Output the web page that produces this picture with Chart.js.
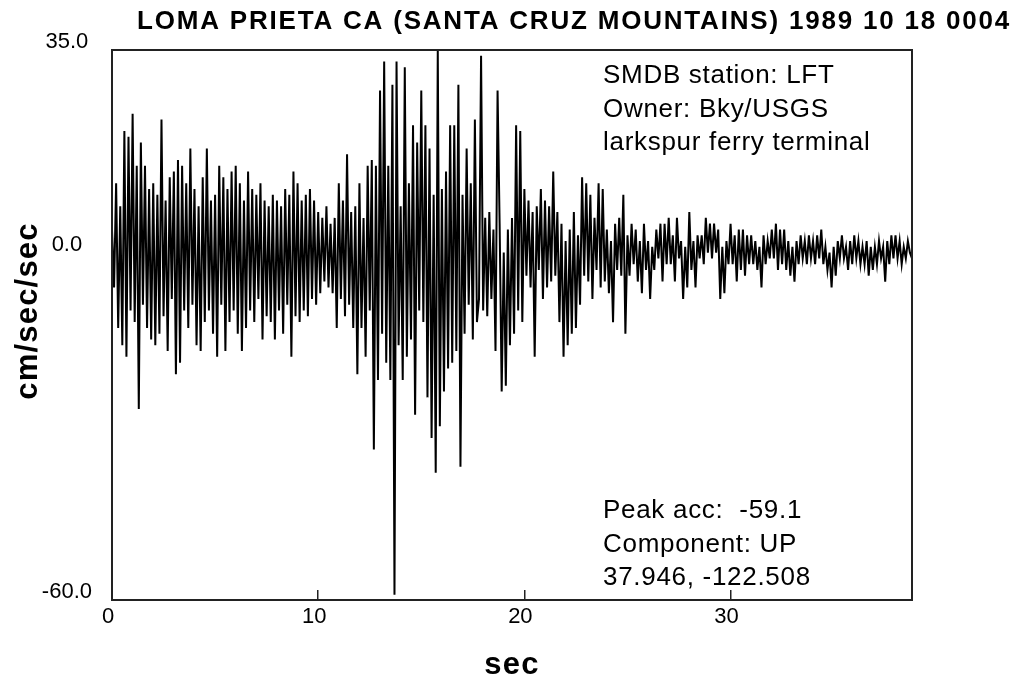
<!DOCTYPE html>
<html>
<head>
<meta charset="utf-8">
<title>LOMA PRIETA CA - LFT UP</title>
<script src="https://cdn.jsdelivr.net/npm/chart.js@4.4.1/dist/chart.umd.min.js"></script>
<style>
  html, body { margin: 0; padding: 0; background: #fff; }
  #wrap { width: 1020px; height: 683px; }
</style>
</head>
<body>
<div id="wrap"><canvas id="chart" width="1020" height="683"></canvas></div>
<script>
// sample spacing of the trace, seconds
const sampleStep = 0.1;
const xMax = 38.8;

// acceleration (cm/sec/sec), one row per second
const accel = [
  4, -6, 12, -13, 8, -16, 21, -18, 20, -10,        // 0 s
  24, -12, 15, -27, 19, -9, 15, -13, 11, -15,      // 1
  12, -16, 10, -14, 23, -11, 9, -17, 13, -8,       // 2
  14, -21, 16, -19, 15, -10, 12, -13, 18, -9,      // 3
  11, -16, 8, -17, 13, -12, 18, -10, 9, -14,       // 4
  10, -18, 15, -9, 13, -17, 11, -12, 14, -10,      // 5
  15, -14, 12, -17, 9, -13, 14, -10, 11, -12,      // 6
  10, -8, 12, -15, 9, -11, 8, -12, 10, -15,        // 7
  9, -10, 8, -14, 11, -9, 10, -18, 14, -11,        // 8
  12, -12, 9, -10, 10, -11, 11, -8, 9, -9,         // 9
  7, -7, 6, -5, 8, -6, 5, -7, 6, -13,              // 10
  12, -8, 9, -11, 17, -9, 7, -13, 8, -21,          // 11
  12, -13, 6, -18, 15, -10, 16, -34, 15, -22,      // 12
  28, -14, 33, -19, 15, -22, 29, -59.1, 33, -16,   // 13
  8, -22, 32, -18, 12, -15, 22, -28, 19, -10,      // 14
  28, -12, 22, -25, 18, -32, 10, -38, 35, -30,     // 15
  11, -24, 14, -20, 22, -19, 22, -17, 29, -37,     // 16
  10, -14, 18, -9, 12, -15, 23, -12, -8, 34,       // 17
  -10, 6, -11, 7, -8, 4, -17, 28, 5, -24,          // 18
  0, -23, 4, -16, 6, -14, 22, -10, 21, -12,        // 19
  11, -4, 9, -6, 7, -18, 8, -3, 11, -8,            // 20
  9, -6, 8, -5, 14, -4, 7, -12, 5, -18,            // 21
  2, -16, 4, -14, 7, -13, 3, -9, 13, -4,           // 22
  12, -5, 10, -8, 6, -3, 12, -6, 11, -5,           // 23
  4, -7, 2, -12, 5, -3, 6, -4, 10, -14,            // 24
  3, -4, 5, -2, 4, -5, 2, -7, 5, -3,               // 25
  2, -8, 1, -3, 4, -1, 5, -5, 5, -2,               // 26
  6, -2, 3, -5, 6, -1, 2, -8, 1, -6,               // 27
  7, -3, 2, -6, 3, -1, 3, -2, 6, 0,                // 28
  5, -1, 5, 0, 4, -8, 1, -7, 2, -2,                // 29
  5, -2, 3, -5, 4, -3, 4, -4, 3, -2,               // 30
  3, -2, 2, -3, 1, -6, 3, -2, 2, -1,               // 31
  4, -1, 5, -3, 4, -2, 4, -3, 2, -4,               // 32
  1, -5, 2, -2, 3, -1, 2, -2, 3, -1,               // 33
  2, -2, 3, -1, 4, -2, 1, -3, 0, -6,               // 34
  1, -4, 2, -1, 3, -1, 1, -3, 2, -2,               // 35
  3, -1, 2, -2, 1, -2, 2, -4, 1, -3,               // 36
  1, -2, 2, -1, 1, -5, 2, -2, 3, -1,               // 37
  3, -1, 2, -2, 1, -1, 2, 0, -1                    // 38
];

const xTicks = [0, 10, 20, 30];
const yTicks = [35, 0, -60];

const titleText = 'LOMA PRIETA CA (SANTA CRUZ MOUNTAINS) 1989 10 18 0004';
const stationLines = ['SMDB station: LFT', 'Owner: Bky/USGS', 'larkspur ferry terminal'];
const peakLines = ['Peak acc:  -59.1', 'Component: UP', '37.946, -122.508'];

const FONT = "'Liberation Sans', Arial, Helvetica, sans-serif";

// frame round the plot plus title, axis titles and notes
const frameAndText = {
  id: 'frameAndText',
  afterDraw(chart) {
    const ctx = chart.ctx;
    const a = chart.chartArea;
    ctx.save();
    ctx.strokeStyle = '#222';
    ctx.lineWidth = 2;
    ctx.strokeRect(a.left, a.top, a.right - a.left, a.bottom - a.top);

    ctx.fillStyle = '#000';
    ctx.textBaseline = 'alphabetic';
    ctx.textAlign = 'left';

    ctx.font = 'bold 26px ' + FONT;
    ctx.letterSpacing = '1.8px';
    ctx.fillText(titleText, 137, 29);

    ctx.font = '26px ' + FONT;
    ctx.letterSpacing = '0.7px';
    stationLines.forEach((s, i) => ctx.fillText(s, 603, 83 + i * 33.5));
    peakLines.forEach((s, i) => ctx.fillText(s, 603, 518 + i * 33.5));

    ctx.font = 'bold 31px ' + FONT;
    ctx.letterSpacing = '1.2px';
    ctx.textAlign = 'center';
    ctx.fillText('sec', 512, 674);

    ctx.translate(37, 311);
    ctx.rotate(-Math.PI / 2);
    ctx.fillText('cm/sec/sec', 0, 0);
    ctx.restore();
  }
};

const ctx = document.getElementById('chart').getContext('2d');
new Chart(ctx, {
  type: 'line',
  data: {
    datasets: [{
      data: accel.map((v, i) => ({ x: Math.round(i * sampleStep * 100) / 100, y: v })),
      borderColor: '#000',
      borderWidth: 2,
      pointRadius: 0,
      tension: 0,
      fill: false
    }]
  },
  options: {
    responsive: false,
    animation: false,
    events: [],
    layout: { padding: { top: 50, right: 108, left: 0, bottom: 0 } },
    plugins: {
      legend: { display: false },
      tooltip: { enabled: false }
    },
    scales: {
      x: {
        type: 'linear',
        min: 0,
        max: xMax,
        afterBuildTicks: s => { s.ticks = xTicks.map(v => ({ value: v })); },
        afterFit: s => { s.height = 83; },
        border: { display: false },
        grid: { drawOnChartArea: false, drawTicks: true, tickLength: -10, color: '#222', lineWidth: 1.5 },
        ticks: {
          color: '#000',
          font: { family: FONT, size: 22 },
          padding: 14,
          labelOffset: -4,
          maxRotation: 0,
          autoSkip: false,
          callback: v => String(v)
        }
      },
      y: {
        min: -60,
        max: 35,
        afterBuildTicks: s => { s.ticks = yTicks.map(v => ({ value: v })); },
        afterFit: s => { s.width = 112; },
        border: { display: false },
        grid: { display: false, drawTicks: false },
        ticks: {
          color: '#000',
          font: { family: FONT, size: 22 },
          crossAlign: 'center',
          padding: 20,
          labelOffset: -8,
          autoSkip: false,
          callback: v => v.toFixed(1)
        }
      }
    }
  },
  plugins: [frameAndText]
});
</script>
</body>
</html>
